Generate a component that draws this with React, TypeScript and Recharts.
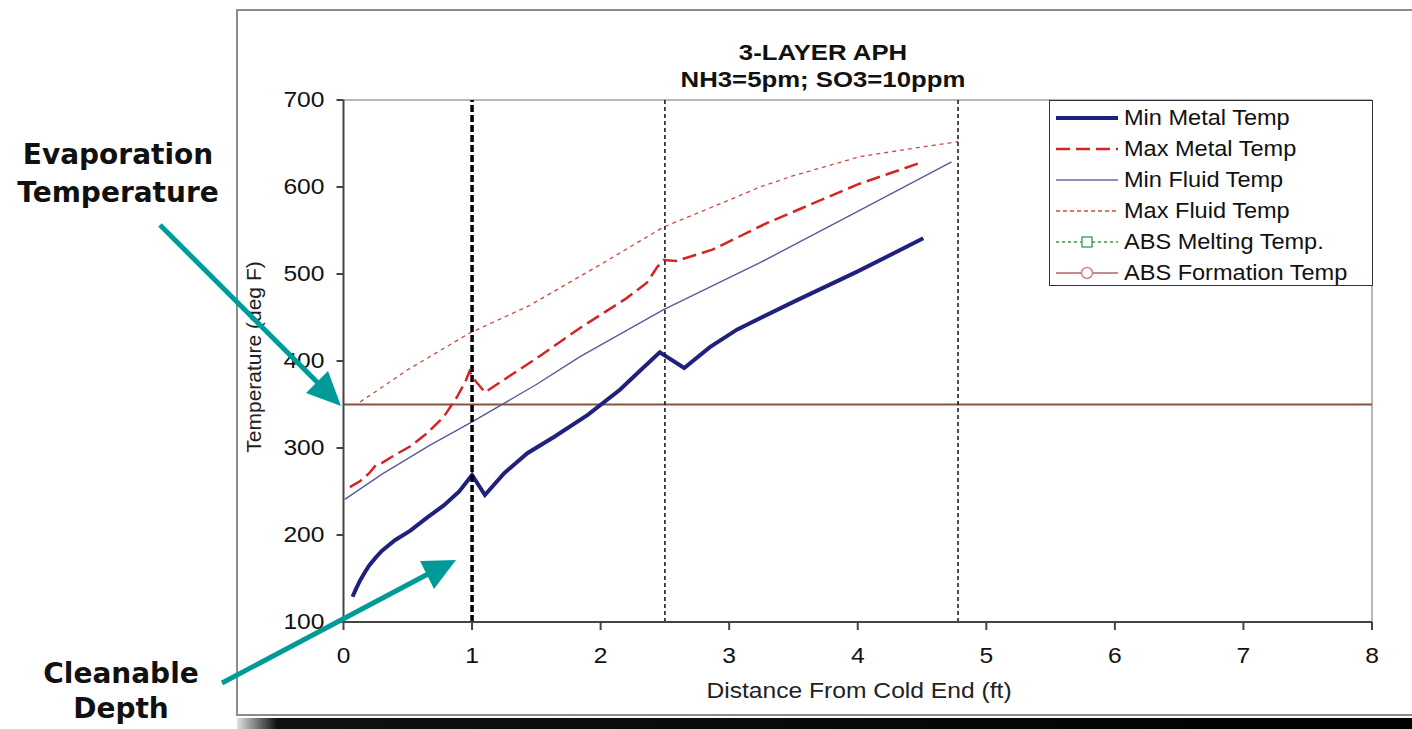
import React from "react";
import { Legend, Line, LineChart, ReferenceLine, XAxis, YAxis } from "recharts";

// distance from cold end (ft), temperature (deg F)
const distanceTicks = [0, 1, 2, 3, 4, 5, 6, 7, 8];
const temperatureTicks = [100, 200, 300, 400, 500, 600, 700];

const minMetalTemp: [number, number][] = [
  [0.07, 129], [0.1, 139], [0.13, 148], [0.17, 158], [0.2, 165], [0.25, 174],
  [0.3, 182], [0.4, 194], [0.52, 205], [0.65, 220], [0.78, 234], [0.9, 250],
  [1.0, 269], [1.1, 246], [1.25, 271], [1.43, 294], [1.64, 313], [1.9, 338],
  [2.15, 367], [2.3, 388], [2.46, 410], [2.65, 392], [2.85, 416], [3.06, 436],
  [3.5, 468], [4.0, 503], [4.51, 541],
];

const maxMetalTemp: [number, number][] = [
  [0.05, 255], [0.13, 262], [0.2, 271], [0.25, 280], [0.3, 283], [0.4, 292],
  [0.52, 302], [0.65, 317], [0.78, 336], [0.88, 358], [0.95, 377], [0.98, 388],
  [1.01, 380], [1.1, 364], [1.5, 403], [1.84, 438], [2.2, 472], [2.36, 490],
  [2.44, 508], [2.49, 516], [2.59, 515], [2.87, 528], [3.3, 559], [4.0, 603],
  [4.51, 629],
];

const minFluidTemp: [number, number][] = [
  [0.01, 241], [0.3, 270], [0.67, 303], [1.0, 330], [1.5, 373], [1.84, 405],
  [2.49, 459], [3.24, 513], [4.0, 572], [4.73, 629],
];

const maxFluidTemp: [number, number][] = [
  [0.13, 353], [0.5, 390], [0.98, 432], [1.45, 464], [2.0, 511], [2.49, 554],
  [3.0, 585], [3.24, 600], [3.5, 613], [4.02, 635], [4.5, 646], [4.78, 652],
];

const absMeltingTemp: [number, number][] = [];
const absFormationTemp: [number, number][] = [
  [0, 350],
  [8, 350],
];

const cleanableDepth = 1;
const layerBoundaries = [2.5, 4.78];

const titleLines = ["3-LAYER APH", "NH3=5pm; SO3=10ppm"];

const toPoints = (pts: [number, number][]) => pts.map(([x, y]) => ({ x, y }));

const FONT = "'Liberation Sans', Arial, sans-serif";
const SX = 1.12;

const stretch = (x: number) => `translate(${x} 0) scale(${SX} 1) translate(${-x} 0)`;

const YTick = ({ x, y, payload }: any) => (
  <text
    x={x}
    y={y + 7.5}
    textAnchor="end"
    fontSize={22}
    fontFamily={FONT}
    fill="#111"
    transform={stretch(x)}
  >
    {payload.value}
  </text>
);

const XTick = ({ x, y, payload }: any) => (
  <text
    x={x}
    y={y + 31}
    textAnchor="middle"
    fontSize={22}
    fontFamily={FONT}
    fill="#111"
    transform={stretch(x)}
  >
    {payload.value}
  </text>
);

const legendItems = [
  { name: "Min Metal Temp", color: "#20207e", width: 4, dash: undefined, marker: null },
  { name: "Max Metal Temp", color: "#d42424", width: 2.5, dash: "14 6", marker: null },
  { name: "Min Fluid Temp", color: "#6868a0", width: 1.5, dash: undefined, marker: null },
  { name: "Max Fluid Temp", color: "#d04848", width: 1.3, dash: "4 3", marker: null },
  { name: "ABS Melting Temp.", color: "#3a9a4a", width: 1.3, dash: "3 3", marker: "square" },
  { name: "ABS Formation Temp", color: "#c48a8f", width: 2, dash: undefined, marker: "circle" },
];

function LegendBox() {
  return (
    <div
      style={{
        width: 324,
        height: 186,
        boxSizing: "border-box",
        border: "1.5px solid #333",
        background: "#fff",
        paddingTop: 1,
      }}
    >
      {legendItems.map((item) => (
        <div
          key={item.name}
          style={{ height: 31, display: "flex", alignItems: "center", position: "relative" }}
        >
          <svg width={70} height={20} style={{ marginLeft: 4 }}>
            <line
              x1={2}
              y1={10}
              x2={64}
              y2={10}
              stroke={item.color}
              strokeWidth={item.width}
              strokeDasharray={item.dash}
            />
            {item.marker === "square" && (
              <rect x={28} y={5} width={10} height={10} fill="#fff" stroke={item.color} strokeWidth={1.3} />
            )}
            {item.marker === "circle" && (
              <circle cx={33} cy={10} r={5.5} fill="#fff" stroke={item.color} strokeWidth={1.5} />
            )}
          </svg>
          <span
            style={{
              fontFamily: FONT,
              fontSize: 22,
              color: "#111",
              display: "inline-block",
              transform: `scaleX(1.07)`,
              transformOrigin: "left center",
              whiteSpace: "nowrap",
            }}
          >
            {item.name}
          </span>
        </div>
      ))}
    </div>
  );
}

function Annotations() {
  const teal = "#009b98";
  return (
    <svg
      width={1412}
      height={729}
      style={{ position: "absolute", left: 0, top: 0, pointerEvents: "none" }}
    >
      {/* chart title */}
      <text
        x={823}
        y={60}
        textAnchor="middle"
        fontFamily={FONT}
        fontWeight="bold"
        fontSize={23}
        fill="#111"
        transform={stretch(823)}
      >
        {titleLines[0]}
      </text>
      <text
        x={823}
        y={87}
        textAnchor="middle"
        fontFamily={FONT}
        fontWeight="bold"
        fontSize={23}
        fill="#111"
        transform={stretch(823)}
      >
        {titleLines[1]}
      </text>

      {/* axis titles */}
      <text
        x={859}
        y={698}
        textAnchor="middle"
        fontFamily={FONT}
        fontSize={22}
        fill="#222"
        transform={stretch(859)}
      >
        Distance From Cold End (ft)
      </text>
      <text
        x={0}
        y={0}
        textAnchor="middle"
        fontFamily={FONT}
        fontSize={21}
        fill="#222"
        transform="translate(261 357) rotate(-90)"
      >
        Temperature (deg F)
      </text>

      {/* callouts */}
      <g fontFamily="'DejaVu Sans', Verdana, sans-serif" fontWeight="bold" fontSize={28} fill="#111" textAnchor="middle">
        <text x={118} y={164}>Evaporation</text>
        <text x={118} y={202}>Temperature</text>
        <text x={121} y={683}>Cleanable</text>
        <text x={121} y={718}>Depth</text>
      </g>
      <line x1={160} y1={225} x2={320} y2={385} stroke={teal} strokeWidth={5} />
      <polygon points="341,406 328,371 306,393" fill={teal} />
      <line x1={222} y1={683} x2={428} y2={574} stroke={teal} strokeWidth={5} />
      <polygon points="456,560 434,589 420,561" fill={teal} />
    </svg>
  );
}

export default function App() {
  return (
    <div style={{ position: "absolute", left: 0, top: 0, width: 1412, height: 729, background: "#fff", overflow: "hidden" }}>
      {/* picture frame */}
      <div
        style={{
          position: "absolute",
          left: 236,
          top: 9,
          width: 1300,
          height: 707,
          boxSizing: "border-box",
          border: "2px solid #8c8c8c",
        }}
      />
      <div
        style={{
          position: "absolute",
          left: 237,
          top: 718,
          width: 1175,
          height: 11,
          background: "linear-gradient(to right, #e0e0e0 0px, #111 40px, #000 100%)",
        }}
      />
      <div style={{ position: "absolute", left: 0, top: 0 }}>
        <LineChart width={1412} height={729} margin={{ top: 100, right: 40, bottom: 77, left: 283.5 }}>
          <XAxis
            dataKey="x"
            type="number"
            domain={[0, 8]}
            ticks={distanceTicks}
            allowDataOverflow
            height={30}
            stroke="#444"
            strokeWidth={2}
            tickSize={8}
            tickMargin={2}
            tick={<XTick />}
          />
          <YAxis
            type="number"
            domain={[100, 700]}
            ticks={temperatureTicks}
            allowDataOverflow
            width={60}
            stroke="#444"
            strokeWidth={2}
            tickSize={7}
            tickMargin={12}
            tick={<YTick />}
          />
          {/* plot area border */}
          <ReferenceLine y={700} stroke="#a0a0a0" strokeWidth={1.5} />
          <ReferenceLine x={8} stroke="#a0a0a0" strokeWidth={1.5} />

          <Line
            data={toPoints(absFormationTemp)}
            dataKey="y"
            name="ABS Formation Temp"
            stroke="#86543e"
            strokeWidth={2}
            dot={false}
            isAnimationActive={false}
          />
          <Line
            data={toPoints(absMeltingTemp)}
            dataKey="y"
            name="ABS Melting Temp."
            stroke="#3a9a4a"
            strokeDasharray="3 3"
            dot={false}
            isAnimationActive={false}
          />
          <Line
            data={toPoints(maxFluidTemp)}
            dataKey="y"
            name="Max Fluid Temp"
            stroke="#d04848"
            strokeWidth={1.3}
            strokeDasharray="4 4"
            dot={false}
            isAnimationActive={false}
          />
          <Line
            data={toPoints(minFluidTemp)}
            dataKey="y"
            name="Min Fluid Temp"
            stroke="#5a5a98"
            strokeWidth={1.4}
            dot={false}
            isAnimationActive={false}
          />
          <Line
            data={toPoints(maxMetalTemp)}
            dataKey="y"
            name="Max Metal Temp"
            stroke="#d42424"
            strokeWidth={2.5}
            strokeDasharray="14 6"
            dot={false}
            isAnimationActive={false}
          />
          <Line
            data={toPoints(minMetalTemp)}
            dataKey="y"
            name="Min Metal Temp"
            stroke="#20207e"
            strokeWidth={4}
            dot={false}
            isAnimationActive={false}
          />

          <ReferenceLine x={cleanableDepth} stroke="#000" strokeWidth={3.5} strokeDasharray="7 3" />
          {layerBoundaries.map((b) => (
            <ReferenceLine key={b} x={b} stroke="#111" strokeWidth={1.5} strokeDasharray="4 3" />
          ))}

          <Legend
            layout="horizontal"
            verticalAlign="middle"
            align="center"
            content={() => <LegendBox />}
            wrapperStyle={{ left: 1049, top: 100, width: 324, height: 186 }}
          />
        </LineChart>
      </div>
      <Annotations />
    </div>
  );
}
